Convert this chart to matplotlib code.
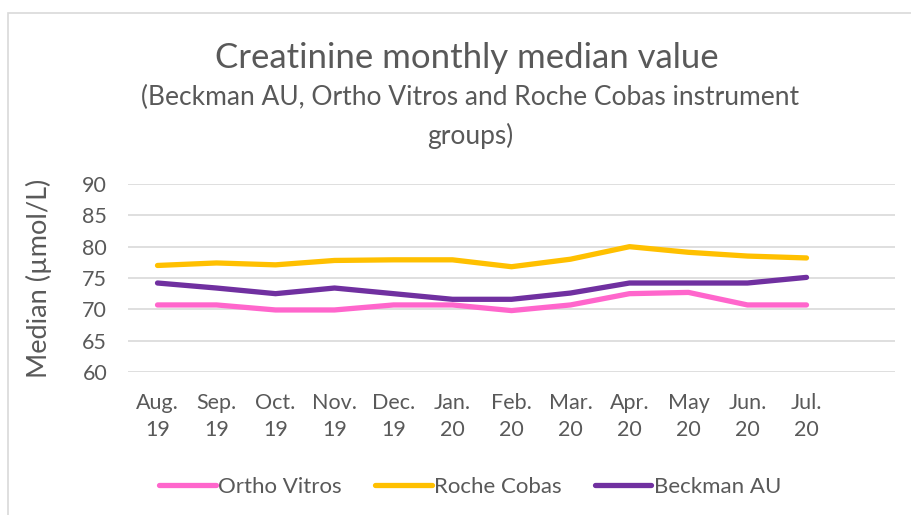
import matplotlib.pyplot as plt
from matplotlib.patches import Rectangle

# datos
meses = ['Aug.\n19', 'Sep.\n19', 'Oct.\n19', 'Nov.\n19', 'Dec.\n19', 'Jan.\n20',
         'Feb.\n20', 'Mar.\n20', 'Apr.\n20', 'May\n20', 'Jun.\n20', 'Jul.\n20']
ortho = [70.7, 70.7, 69.9, 69.9, 70.7, 70.7, 69.8, 70.7, 72.5, 72.7, 70.7, 70.7]
roche = [77.0, 77.4, 77.1, 77.8, 77.9, 77.9, 76.8, 78.0, 80.0, 79.1, 78.5, 78.2]
beckman = [74.2, 73.4, 72.5, 73.4, 72.5, 71.6, 71.6, 72.6, 74.2, 74.2, 74.2, 75.1]

plt.rcParams['font.family'] = ['Lato', 'DejaVu Sans']
gris = '#595959'

fig = plt.figure(figsize=(9.12, 5.15), dpi=100)
# marco del area del grafico
fig.patches.append(Rectangle((8 / 912, -0.1), 1.1, 1 - 13 / 515 + 0.1, transform=fig.transFigure,
                             fill=False, edgecolor='#d9d9d9', linewidth=1.2))

ax = fig.add_axes([128 / 912, 1 - 372 / 515, (895 - 128) / 912, (372 - 184) / 515])
x = range(len(meses))
ax.plot(x, ortho, color='#FF66CC', lw=3.8, solid_capstyle='round', label='Ortho Vitros')
ax.plot(x, roche, color='#FFC000', lw=3.8, solid_capstyle='round', label='Roche Cobas')
ax.plot(x, beckman, color='#7030A0', lw=3.8, solid_capstyle='round', label='Beckman AU')

ax.set_xlim(-0.5, 12.5)
ax.set_ylim(60, 90)
ax.set_yticks(range(60, 91, 5))
ax.set_xticks(list(x))
ax.set_xticklabels(meses, fontsize=15.5, color=gris, linespacing=1.45)
ax.tick_params(axis='y', labelsize=15.5, labelcolor=gris, length=0, pad=15)
ax.tick_params(axis='x', length=0, pad=15)
ax.grid(axis='y', color='#d9d9d9', lw=1.2)
ax.set_axisbelow(True)
for s in ax.spines.values():
    s.set_visible(False)
ax.set_ylabel('Median (µmol/L)', fontsize=19.5, color=gris, labelpad=22)

fig.text(467 / 912, 1 - 58 / 515, 'Creatinine monthly median value', ha='center', va='center',
         fontsize=25, color=gris)
fig.text(470 / 912, 1 - 117 / 515, '(Beckman AU, Ortho Vitros and Roche Cobas instrument\ngroups)',
         ha='center', va='center', fontsize=19, color=gris, linespacing=1.6)

fig.legend(loc='center', bbox_to_anchor=(470 / 912, 1 - 487 / 515), ncol=3, frameon=False,
           fontsize=16, labelcolor=gris, handlelength=2.55, handletextpad=0.1, columnspacing=1.5)

plt.savefig('out.png', dpi=100)
